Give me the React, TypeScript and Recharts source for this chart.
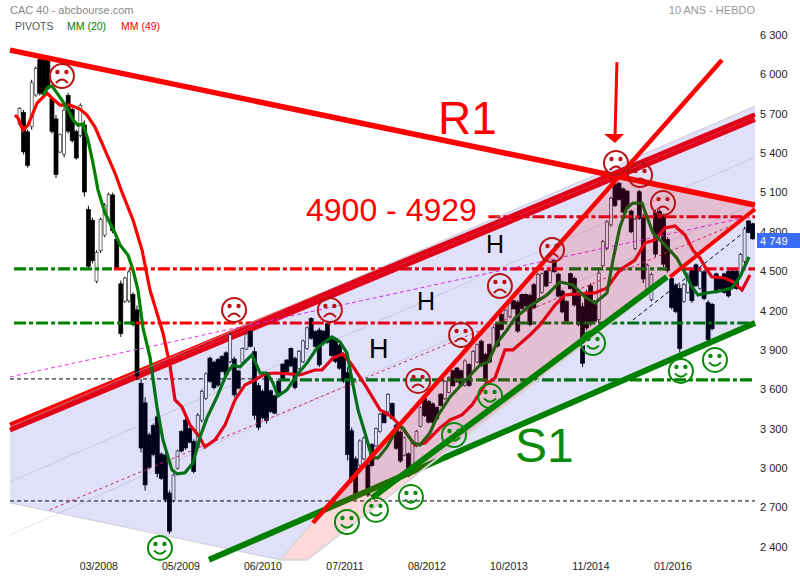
import { Area, Bar, ComposedChart, Line, XAxis, YAxis } from "recharts";

const FONT = "'Liberation Sans', Arial, sans-serif";
const RED = "#ff0000";
const GREEN = "#008000";

// weekly candles left to right
const candleHigh = [
  5750, 5730, 5580, 5960, 6060, 6130, 6130, 6130, 5830, 5690,
  5550, 5750, 5860, 5750, 5580, 5780, 5650, 5000, 4910, 4660,
  4910, 5020, 5100, 5100, 4760, 4430, 4460, 4510, 4340, 4240,
  3680, 3540, 3270, 3340, 3420, 3120, 3120, 2830, 2960, 3140,
  3290, 3380, 3310, 3220, 3420, 3600, 3730, 3850, 3820, 3840,
  3860, 3890, 4030, 3850, 3750, 3920, 4030, 4050, 3920, 3650,
  3600, 3730, 3600, 3560, 3670, 3800, 3830, 3920, 3850, 3900,
  3980, 4080, 4150, 4050, 4070, 4050, 4110, 4000, 4000, 3950,
  3880, 3770, 3310, 3090, 3220, 3240, 3040, 3190, 3310, 3420,
  3440, 3570, 3500, 3340, 3290, 3240, 3120, 3220, 3290, 3470,
  3540, 3520, 3500, 3470, 3570, 3670, 3700, 3750, 3770, 3750,
  3830, 3800, 3900, 3950, 3980, 3880, 3950, 4080, 4110, 4180,
  4210, 4260, 4280, 4280, 4330, 4330, 4330, 4410, 4490, 4490,
  4510, 4510, 4590, 4490, 4360, 4280, 4490, 4460, 4330, 4260,
  4360, 4410, 4280, 4510, 4740, 4890, 5070, 5170, 5180, 5140,
  5120, 4970, 4910, 5120, 4940, 4560, 4490, 4970, 4970, 4940,
  4760, 4460, 4410, 4400, 4410, 4490, 4530, 4560, 4510, 4510,
  4280, 4260, 4490, 4460, 4490, 4510, 4510, 4510, 4640, 4840,
  4890, 4870,
];
const candleLow = [
  5610, 5390, 5290, 5580, 5830, 5840, 5830, 5880, 5550, 5210,
  5400, 5370, 5550, 5480, 5350, 5520, 5070, 4510, 4560, 4410,
  4640, 4760, 4870, 4790, 4510, 4000, 4260, 4260, 4080, 3670,
  3120, 2830, 2990, 3090, 2930, 2910, 2740, 2500, 2740, 2990,
  3120, 3140, 3190, 2960, 3140, 3350, 3520, 3650, 3600, 3620,
  3730, 3700, 3800, 3540, 3600, 3800, 3900, 3920, 3370, 3290,
  3370, 3340, 3420, 3410, 3570, 3670, 3730, 3770, 3600, 3750,
  3800, 3900, 3980, 3920, 3770, 3950, 3950, 3850, 3800, 3750,
  3650, 3060, 2890, 2760, 3010, 3060, 2780, 3010, 3160, 3270,
  3340, 3420, 3370, 3140, 3040, 3090, 2930, 3010, 3160, 3310,
  3390, 3340, 3340, 3370, 3470, 3520, 3570, 3620, 3650, 3620,
  3620, 3620, 3730, 3800, 3770, 3650, 3800, 3900, 3920, 4050,
  4110, 4150, 4210, 4030, 4210, 4230, 4080, 4210, 4280, 4330,
  4380, 4410, 4490, 4300, 4180, 4110, 4360, 4230, 4080, 3770,
  4050, 4080, 4110, 4110, 4530, 4660, 4840, 4990, 5040, 4940,
  4970, 4790, 4660, 4890, 4410, 4330, 4270, 4610, 4760, 4530,
  4490, 4210, 4180, 3880, 4260, 4330, 4260, 4380, 4360, 4280,
  3960, 4050, 4330, 4360, 4330, 4300, 4380, 4360, 4460, 4560,
  4790, 4740,
];
const candleUp = [
  1, 0, 0, 1, 1, 0, 0, 0, 0, 0,
  1, 1, 0, 0, 0, 1, 0, 0, 0, 1,
  1, 1, 1, 0, 0, 0, 1, 1, 0, 0,
  0, 0, 0, 0, 0, 0, 0, 0, 1, 1,
  0, 0, 0, 0, 1, 1, 1, 0, 0, 0,
  0, 0, 1, 0, 0, 1, 1, 0, 0, 0,
  0, 0, 0, 0, 0, 0, 0, 0, 0, 1,
  1, 1, 0, 0, 0, 0, 0, 0, 0, 0,
  0, 0, 0, 0, 1, 1, 0, 0, 1, 1,
  0, 1, 0, 0, 0, 1, 0, 1, 1, 1,
  0, 0, 0, 0, 0, 1, 1, 0, 0, 0,
  1, 0, 1, 1, 0, 0, 0, 1, 0, 0,
  1, 1, 0, 0, 0, 0, 0, 0, 1, 1,
  0, 1, 0, 0, 0, 0, 0, 0, 0, 0,
  0, 0, 0, 1, 1, 1, 1, 0, 0, 0,
  0, 0, 1, 0, 0, 1, 1, 0, 0, 0,
  0, 0, 0, 0, 1, 1, 0, 0, 1, 0,
  0, 0, 0, 0, 0, 0, 0, 0, 1, 1,
  0, 0,
];

const mm49: [number, number][] = [
  [3.7, 5691], [5.9, 5668], [9.5, 5576], [13.2, 5614], [19.8, 5782], [27.1, 5858], [30.7, 5820], [36.6, 5767],
  [43.9, 5767], [51.2, 5736], [56.3, 5691], [62.2, 5599], [69.5, 5424], [76.8, 5249], [81.9, 5104], [90, 4891],
  [96.6, 4662], [102.4, 4358], [111.9, 4030], [117, 3786], [120.7, 3520], [125.8, 3466], [131.7, 3329], [137.5, 3253],
  [142.6, 3162], [150, 3215], [157.3, 3329], [164.6, 3520], [171.9, 3634], [179.3, 3672], [186.5, 3718], [193.8, 3725],
  [204.8, 3718], [212.1, 3710], [223.1, 3748], [228.2, 3748], [236.3, 3840], [243.6, 3870], [250.2, 3786], [259.7, 3634],
  [270.7, 3444], [279.4, 3390], [286.8, 3307], [296.3, 3177], [303.6, 3192], [314.5, 3307], [321.9, 3367], [330.6, 3406],
  [338, 3482], [347.5, 3634], [354.8, 3687], [362.1, 3901], [367.9, 3901], [380.4, 4015], [387.7, 4091], [398.7, 4243],
  [406, 4320], [415.5, 4327], [427.9, 4335], [436.7, 4373], [446.2, 4510], [457.2, 4586], [464.5, 4716], [471.8, 4739],
  [479.1, 4830], [486.5, 4845], [493.8, 4777], [499.6, 4662], [504.7, 4601], [509.9, 4510], [513.5, 4457], [523, 4449],
  [528.9, 4419], [535.5, 4358], [541.3, 4472],
];
const mm20: [number, number][] = [
  [24.1, 5843], [27.8, 5904], [30.7, 5912], [32.9, 5881], [38, 5805], [41.7, 5744], [46.1, 5653], [49.7, 5614],
  [53.4, 5622], [57.1, 5500], [60.7, 5325], [64.4, 5119], [69.5, 4944], [76.8, 4792], [80.5, 4701], [86.3, 4624],
  [90, 4510], [93.6, 4358], [97.3, 4068], [102.4, 3847], [107.5, 3466], [111.9, 3215], [118.5, 2987], [122.2, 2956],
  [128, 2964], [133.9, 3040], [139, 3238], [144.1, 3383], [151.4, 3543], [158.7, 3725], [163.1, 3786], [168.2, 3771],
  [177, 3863], [182.9, 3725], [188, 3725], [192.4, 3649], [196, 3550], [202.6, 3596], [209.9, 3710], [217.3, 3802],
  [224.6, 3916], [230.4, 3962], [235.5, 4000], [241.4, 3962], [246.5, 3878], [250.2, 3672], [254.6, 3444], [259.7, 3268],
  [264.8, 3078], [269.2, 3078], [275.8, 3162], [283.8, 3314], [287.5, 3307], [294.8, 3192], [299.9, 3177], [307.2, 3268],
  [312.4, 3390], [321.9, 3543], [331.4, 3649], [343.8, 3786], [349.7, 3809], [356.2, 3954], [363.6, 4053], [369.4, 4144],
  [378.2, 4221], [392.8, 4320], [402.3, 4419], [411.8, 4396], [420.6, 4304], [427.9, 4259], [436.7, 4335], [441.1, 4586],
  [446.2, 4838], [451.3, 4982], [455.7, 5020], [462.3, 5020], [466, 4914], [470.4, 4792], [477.7, 4716], [487.9, 4601],
  [493.8, 4487], [498.9, 4381], [503.3, 4320], [509.9, 4335], [519.4, 4350], [528.1, 4373], [534, 4457], [540.6, 4609],
];

const sadFaces: [number, number][] = [
  [38, 5988], [163.9, 4205], [234, 4205], [298.5, 3665], [330, 4015],
  [358.4, 4388], [396.5, 4662], [443.3, 5325], [460.9, 5234], [477.7, 5020],
];
const happyFaces: [number, number][] = [
  [109.7, 2392], [246.5, 2590], [267.7, 2682], [293.3, 2781], [324.8, 3253],
  [351.2, 3550], [426.5, 3954], [490.8, 3741], [515.7, 3825],
];

// shaded zones: week, lower edge, upper edge
const channelZone: [number, number, number][] = [
  [0, 2735, 3314], [197.5, 2301, 4200], [228.9, 2670, 4341], [545, 4106, 5759],
];
const wedgeZone: [number, number, number][] = [
  [197.5, 2301, 2301], [217.3, 2301, 2537], [445.5, 4152, 5211], [545, 4960, 4997],
];

// pivot levels: colour, level, first week, last week
const pivots: [string, number, number, number][] = [
  [GREEN, 4518, 3, 74.6], [RED, 4518, 76, 404.5], [GREEN, 4518, 409, 481], [RED, 4518, 492, 545],
  [GREEN, 4106, 3, 91.4], [RED, 4106, 92, 346], [GREEN, 4106, 355, 545],
  [GREEN, 3672, 196, 545], [RED, 4916, 350, 545],
];

const yTicks = [2400, 2700, 3000, 3300, 3600, 3900, 4200, 4500, 4800, 5100, 5400, 5700, 6000, 6300];
const xTicks = [65, 125, 185, 245, 305, 365, 425, 485];
const xLabels = ["03/2008", "05/2009", "06/2010", "07/2011", "08/2012", "10/2013", "11/2014", "01/2016"];

const candles = candleHigh.map((high, i) => ({
  w: 1.06 + 2.963 * (i + 2),
  range: [candleLow[i], high],
  up: candleUp[i] === 1,
}));

const points = (list: [number, number][]) => list.map(([w, v]) => ({ w, v }));
const zone = (list: [number, number, number][]) => list.map(([w, low, high]) => ({ w, range: [low, high] }));

const Candle = (props: any) => {
  const { x, y, width, height, up } = props;
  const cx = x + width / 2;
  const top = Math.min(y, y + height);
  const h = Math.abs(height);
  return (
    <g>
      <line x1={cx} x2={cx} y1={top} y2={top + h} stroke="#000" strokeWidth={1} />
      <rect
        x={cx - (up ? 1.5 : 2)}
        y={top + h * 0.06}
        width={up ? 3 : 4}
        height={h * 0.88}
        fill={up ? "#fff" : "#000"}
        stroke={up ? "#333" : "#000"}
        strokeWidth={0.7}
      />
    </g>
  );
};

const Face = ({ cx, cy, happy }: { cx: number; cy: number; happy: boolean }) => {
  const color = happy ? "#0a8a0a" : "#b81414";
  return (
    <g fill="none" stroke={color} strokeWidth={2}>
      <circle cx={cx} cy={cy} r={12} />
      <circle cx={cx - 4.5} cy={cy - 4} r={1.2} fill={color} />
      <circle cx={cx + 4.5} cy={cy - 4} r={1.2} fill={color} />
      {happy ? (
        <path d={`M${cx - 6} ${cy + 2.5} Q${cx} ${cy + 9} ${cx + 6} ${cy + 2.5}`} />
      ) : (
        <path d={`M${cx - 6} ${cy + 7} Q${cx} ${cy + 0} ${cx + 6} ${cy + 7}`} />
      )}
    </g>
  );
};

// straight segment between two read-off points
const seg = (id: string, z: number, list: [number, number][], stroke: string, strokeWidth: number, dash?: string) => (
  <Line
    key={id}
    data={points(list)}
    dataKey="v"
    stroke={stroke}
    strokeWidth={strokeWidth}
    strokeDasharray={dash}
    dot={false}
    activeDot={false}
    legendType="none"
    isAnimationActive={false}
    zIndex={z}
  />
);

const faces = (id: string, list: [number, number][], happy: boolean) => (
  <Line
    key={id}
    data={points(list)}
    dataKey="v"
    stroke="none"
    dot={(p: any) => <Face key={p.index} cx={p.cx} cy={p.cy} happy={happy} />}
    activeDot={false}
    isAnimationActive={false}
    zIndex={60}
  />
);

const ArrowHead = (p: any) =>
  p.index === 1 ? (
    <path
      key={p.index}
      d={`M${p.cx - 11} ${p.cy - 2} L${p.cx + 9} ${p.cy - 2} L${p.cx} ${p.cy + 7} Z`}
      fill={RED}
      stroke="none"
    />
  ) : (
    <g key={p.index} />
  );

export default function App() {
  return (
    <div style={{ position: "absolute", left: 0, top: 0, width: 800, height: 580, background: "#fff", fontFamily: FONT }}>
      <ComposedChart width={800} height={580} data={candles} margin={{ top: 22, right: 0, bottom: 0, left: 10 }}>
        <XAxis
          dataKey="w"
          type="number"
          domain={[0, 545]}
          ticks={xTicks}
          interval={0}
          height={20}
          axisLine={false}
          tickSize={0}
          tickMargin={3}
          tickFormatter={(_: number, i: number) => xLabels[i]}
          tick={{ fontSize: 10.5, fill: "#222", fontFamily: FONT }}
        />
        <YAxis
          orientation="right"
          type="number"
          domain={[2300, 6400]}
          ticks={yTicks}
          interval={0}
          width={45}
          axisLine={false}
          tickSize={0}
          tickMargin={5}
          tickFormatter={(v: number) => String(v).replace(/(\d)(\d{3})$/, "$1 $2")}
          tick={{ fontSize: 11, fill: "#222", fontFamily: FONT }}
        />

        {seg("flat2750", 10, [[0, 2750], [545, 2750]], "#000", 1, "4 3")}
        {seg("flat3680", 10, [[0, 3680], [195, 3680]], "#000", 1, "4 3")}
        {seg("faintA", 10, [[0, 2491], [545, 5020]], "#e6e6e6", 1)}
        {seg("faintB", 10, [[0, 2895], [545, 5371]], "#e6e6e6", 1)}
        {seg("bandUp", 12, [[0, 3329], [545, 5694]], RED, 4.7)}
        {seg("bandDown", 12, [[0, 3291], [545, 5656]], RED, 4.7)}

        <Bar
          dataKey="range"
          barSize={3}
          isAnimationActive={false}
          zIndex={20}
          shape={(p: any) => <Candle {...p} up={p.payload.up} />}
        />

        {pivots.map(([color, level, from, to], i) =>
          seg(`pivot${i}`, 30, [[from, level], [to, level]], color, 3.2, "12 3 4 3"),
        )}
        {seg("magenta", 35, [[0, 3695], [536, 4906]], "#f030f0", 1, "4 3")}
        {seg("thinRed", 35, [[29, 2682], [529, 4853]], "#f03050", 1, "3 3")}
        {seg("thinBlack", 35, [[455.7, 4129], [536, 4790]], "#000", 1, "4 3")}

        {seg("mm49", 40, mm49, RED, 3.2)}
        {seg("mm20", 45, mm20, GREEN, 3.2)}
        {faces("sad", sadFaces, false)}
        {faces("happy", happyFaces, true)}

        <Area
          data={zone(channelZone)}
          dataKey="range"
          type="linear"
          fill="#0000c8"
          fillOpacity={0.12}
          stroke="#b8b8c0"
          strokeOpacity={0.6}
          strokeWidth={1}
          dot={false}
          activeDot={false}
          isAnimationActive={false}
          zIndex={100}
        />
        {seg("s1", 110, [[145.6, 2301], [545, 4106]], GREEN, 6)}
        <Area
          data={zone(wedgeZone)}
          dataKey="range"
          type="linear"
          fill={RED}
          fillOpacity={0.15}
          stroke="#d8d8d8"
          strokeWidth={2}
          dot={false}
          activeDot={false}
          isAnimationActive={false}
          zIndex={120}
        />
        {seg("s2", 130, [[264.8, 2773], [480.6, 4457]], GREEN, 6)}
        {seg("steep", 130, [[221.6, 2583], [520.8, 6110]], RED, 4.5)}
        {seg("lowerRed", 130, [[482.8, 4457], [545, 4975]], RED, 4)}
        {seg("r1", 130, [[0, 6186], [545, 5005]], RED, 5.5)}
        <Line
          data={points([[444, 6094], [442.6, 5531]])}
          dataKey="v"
          stroke={RED}
          strokeWidth={3}
          dot={ArrowHead}
          activeDot={false}
          isAnimationActive={false}
          zIndex={130}
        />
      </ComposedChart>

      <svg width={800} height={580} style={{ position: "absolute", left: 0, top: 0, fontFamily: FONT }}>
        <text x={10} y={14} fontSize={11} fill="#888">CAC 40 - abcbourse.com</text>
        <text x={755} y={14} fontSize={11} fill="#999" textAnchor="end">10 ANS - HEBDO</text>
        <text x={15} y={30} fontSize={10.5} fill="#555">PIVOTS</text>
        <text x={67} y={30} fontSize={10.5} fill={GREEN}>MM (20)</text>
        <text x={121} y={30} fontSize={10.5} fill={RED}>MM (49)</text>
        <text x={438} y={134} fontSize={46} fill={RED}>R1</text>
        <text x={306} y={221} fontSize={32} fill={RED}>4900 - 4929</text>
        <text x={515} y={462} fontSize={48} fill="#0a8a0a">S1</text>
        <text x={486} y={253} fontSize={25} fill="#000">H</text>
        <text x={417} y={310} fontSize={25} fill="#000">H</text>
        <text x={369} y={358} fontSize={27} fill="#000">H</text>
        <rect x={757} y={233} width={43} height={15} fill="#3b6cf5" />
        <text x={760} y={244.5} fontSize={11} fill="#fff">4 749</text>
      </svg>
    </div>
  );
}
